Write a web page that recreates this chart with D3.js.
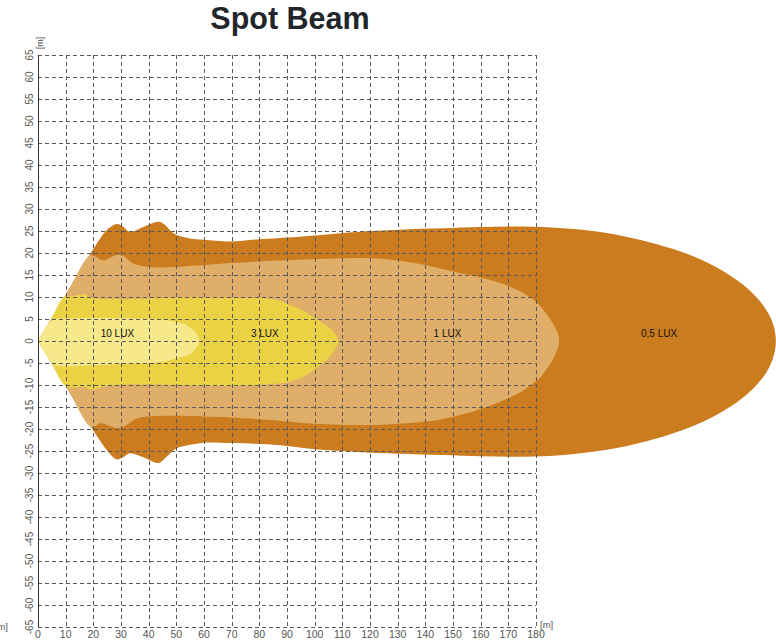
<!DOCTYPE html>
<html>
<head>
<meta charset="utf-8">
<script src="https://cdn.jsdelivr.net/npm/d3@7"></script>
<style>
  html, body { margin: 0; padding: 0; background: #fff; overflow: hidden; }
  svg { display: block; }
</style>
</head>
<body>
<svg id="chart" width="776" height="644"></svg>
<script>
// Isolux zones of the spot beam, outlines in metres: [distance, lateral offset]
// Each outline starts at the lamp (0,0), runs along the upper edge, round the far end, back along the lower edge.
const zoneNames = ["0.5 LUX", "1 LUX", "3 LUX", "10 LUX"];

const lux05 = [
  [0, 0], [10, 10.5], [19.4, 20.3], [25.5, 25.6], [28.7, 26.6], [30.6, 26.1], [33.2, 24.8],
  [38, 25.9], [43.5, 27.1], [45.9, 26.4], [48, 25], [50.1, 24.1], [55, 23.3], [59.8, 23],
  [69.4, 22.6], [80, 23.1], [90, 23.5], [100, 24], [115, 24.8], [130, 25.3], [146.5, 25.6],
  [160, 25.9], [175, 26], [190, 25.6], [205, 24.6], [220, 22.6], [235, 19.7], [245, 16.8],
  [255, 12.7], [262, 8.2], [265.5, 4.2], [266.7, 0],
  [265.5, -4.2], [262, -8.3], [255, -12.8], [245, -16.9], [235, -19.8], [220, -22.8],
  [205, -24.8], [190, -25.9], [175, -26.3], [160, -26.2], [146.5, -25.9], [130, -25.6],
  [115.2, -25.2], [100, -24.6], [87.5, -23.7], [70, -23.2], [59.8, -23.1], [55, -23.6],
  [50.1, -24.4], [47.6, -25.6], [46.3, -26.4], [43.5, -27.7], [38, -26.4], [33.2, -25.5],
  [30.6, -26.5], [28.4, -26.9], [25.5, -25.3], [19.4, -19.8], [10, -10.2], [0, 0]
];

const lux1 = [
  [0, 0], [10, 10.4], [18.8, 19.5], [20.6, 19.2], [23.6, 18.3], [27, 19.2], [29, 19.6],
  [31.4, 19.1], [34.4, 17.6], [40.5, 16.8], [51.3, 16.9], [69.4, 17.7], [87.5, 18.3],
  [105, 18.7], [120, 18.8], [130, 18.3], [140, 17.3], [148, 16.1], [156, 15], [165, 13.6],
  [172, 12], [177, 10.3], [181, 8.3], [184.5, 5.5], [187, 3], [188.4, 0],
  [187, -3], [184.5, -5.8], [181, -8.6], [176, -11], [170, -13], [162, -15],
  [154, -16.6], [144, -18], [130, -18.8], [120, -19.1], [100, -18.8], [87.5, -18.1],
  [70, -17.4], [63.4, -17.2], [45.3, -17], [35.7, -17.6], [32, -19.1], [29, -19.8],
  [26, -19.3], [22.4, -18.7], [19.4, -19.6], [10, -10.1], [0, 0]
];

const lux3 = [
  [0, 0], [5, 5.2], [9.2, 9.9], [13, 10.3], [17, 10.6], [18.8, 9.9], [25, 9.6], [33.2, 9.5],
  [45, 9.8], [57.3, 9.9], [70, 9.8], [83.8, 9.6], [88, 9], [91, 8.2], [95.5, 7], [99.5, 5.5],
  [103.5, 3.8], [106.7, 2.2], [108.5, 0],
  [106.7, -2.5], [104.3, -4.3], [100, -6.4], [95.9, -8.1], [90, -9.4], [83.8, -9.8],
  [70, -10.2], [57.3, -10.1], [45, -9.9], [33.2, -9.9], [25, -10.2], [18.8, -11],
  [17, -10.4], [10.4, -10.4], [5, -5.2], [0, 0]
];

const lux10 = [
  [0, 0], [3, 3.3], [5.5, 4.8], [10, 5.1], [21.2, 5.2], [35, 5.1], [45.3, 4.8], [50, 4.3],
  [53.7, 3.6], [56.5, 2.2], [58.5, 0],
  [57.3, -1.5], [55, -3], [50.1, -3.9], [45, -4.7], [33.2, -5.1], [20, -5.5], [9.2, -5.7],
  [5.5, -5.4], [3, -3.3], [0, 0]
];

const zoneOutlines = [lux05, lux1, lux3, lux10];

// Where each zone's name sits, in metres
const labelX = [224.5, 148, 82, 28.7];
const labelY = [1.8, 1.8, 1.8, 1.8];

const xTicks = [0, 10, 20, 30, 40, 50, 60, 70, 80, 90, 100, 110, 120, 130, 140, 150, 160, 170, 180];
const yTicks = [65, 60, 55, 50, 45, 40, 35, 30, 25, 20, 15, 10, 5, 0, -5, -10, -15, -20, -25,
                -30, -35, -40, -45, -50, -55, -60, -65];

// Styling
const zoneColors = ["#cb7c1e", "#dfae68", "#ebd245", "#f7e88b"];
const gridColor = "#5a5a5a";
const tickColor = "#555";
const fontFamily = "'Liberation Sans', Arial, Helvetica, sans-serif";

const svg = d3.select("#chart");
const x = d3.scaleLinear().domain([0, 180]).range([38, 536]);
const y = d3.scaleLinear().domain([-65, 65]).range([627, 55]);

// Title
svg.append("text")
  .attr("x", 290).attr("y", 29)
  .attr("text-anchor", "middle")
  .attr("font-family", fontFamily)
  .attr("font-weight", "bold")
  .attr("font-size", 30.5)
  .attr("fill", "#22262b")
  .text("Spot Beam");

// Zones, widest first
const outline = d3.line()
  .x(d => x(d[0]))
  .y(d => y(d[1]))
  .curve(d3.curveCatmullRom.alpha(0.5));

svg.append("g").selectAll("path")
  .data(zoneOutlines)
  .join("path")
  .attr("d", d => outline(d) + "Z")
  .attr("fill", (d, i) => zoneColors[i]);

// Dashed grid, drawn over the zones
const crisp = v => Math.round(v) + 0.5;
const grid = svg.append("g")
  .attr("stroke", gridColor)
  .attr("stroke-width", 1)
  .attr("stroke-dasharray", "4,3")
  .attr("fill", "none");

grid.selectAll("line.v")
  .data(xTicks.filter(t => t !== 0))
  .join("line")
  .attr("class", "v")
  .attr("x1", d => crisp(x(d))).attr("x2", d => crisp(x(d)))
  .attr("y1", y(65)).attr("y2", y(-65));

grid.selectAll("line.h")
  .data(yTicks)
  .join("line")
  .attr("class", "h")
  .attr("x1", x(0)).attr("x2", x(180))
  .attr("y1", d => crisp(y(d))).attr("y2", d => crisp(y(d)));

// Solid left axis line
svg.append("line")
  .attr("x1", crisp(x(0))).attr("x2", crisp(x(0)))
  .attr("y1", y(65)).attr("y2", y(-65))
  .attr("stroke", "#333").attr("stroke-width", 1);

// Zone names
svg.append("g").selectAll("text")
  .data(zoneNames)
  .join("text")
  .attr("x", (d, i) => x(labelX[i]))
  .attr("y", (d, i) => y(labelY[i]))
  .attr("dy", "0.35em")
  .attr("text-anchor", "middle")
  .attr("font-family", fontFamily)
  .attr("font-size", 10)
  .attr("fill", "#111")
  .text(d => d);

// X tick labels
svg.append("g").selectAll("text")
  .data(xTicks)
  .join("text")
  .attr("x", d => x(d))
  .attr("y", 638)
  .attr("text-anchor", "middle")
  .attr("font-family", fontFamily)
  .attr("font-size", 10.5)
  .attr("fill", tickColor)
  .text(d => d);

// Y tick labels, turned on their side
svg.append("g").selectAll("text")
  .data(yTicks)
  .join("text")
  .attr("transform", d => `translate(32.5,${y(d)}) rotate(-90)`)
  .attr("text-anchor", "middle")
  .attr("font-family", fontFamily)
  .attr("font-size", 10)
  .attr("fill", tickColor)
  .text(d => d);

// Unit labels
svg.append("text")
  .attr("transform", "translate(43,43) rotate(-90)")
  .attr("text-anchor", "middle")
  .attr("font-family", fontFamily)
  .attr("font-size", 9)
  .attr("fill", tickColor)
  .text("[m]");

svg.append("text")
  .attr("x", 540).attr("y", 628)
  .attr("font-family", fontFamily)
  .attr("font-size", 9.5)
  .attr("fill", tickColor)
  .text("[m]");

svg.append("text")
  .attr("x", 8).attr("y", 630)
  .attr("text-anchor", "end")
  .attr("font-family", fontFamily)
  .attr("font-size", 9.5)
  .attr("fill", tickColor)
  .text("[m]");
</script>
</body>
</html>
